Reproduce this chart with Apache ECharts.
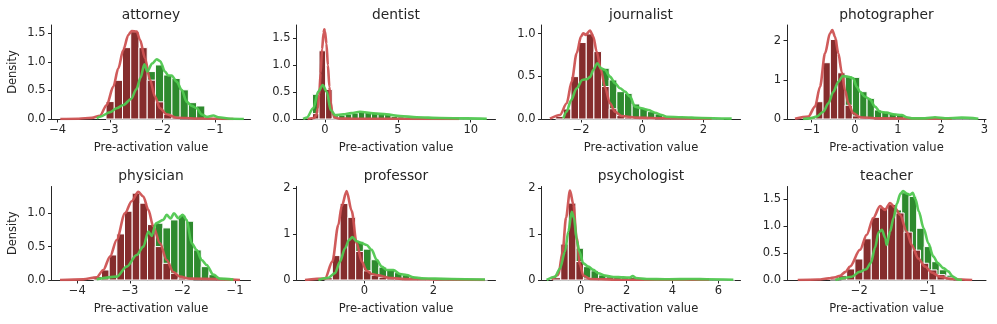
<!DOCTYPE html>
<html><head><meta charset="utf-8">
<script src="https://cdn.jsdelivr.net/npm/echarts@6/dist/echarts.min.js"></script>
<style>html,body{margin:0;padding:0;background:#fff}#c{width:997px;height:324px}</style>
</head><body><div id="c"></div>
<script>
// ---------- DATA ----------
const titles = ['attorney','dentist','journalist','photographer','physician','professor','psychologist','teacher'];

// histogram bins: [first edge, bin width]; heights per bin (density)
const attorneyRedBins = [-3.078, 0.157];
const attorneyRedHist = [0.305, 0.677, 1.249, 1.529, 1.249, 0.68, 0.3, 0.08, 0.03];
const attorneyGreenBins = [-3.078, 0.157];
const attorneyGreenHist = [0.14, 0.2, 0.28, 0.42, 0.8, 0.83, 0.946, 0.77, 0.71, 0.51, 0.286, 0.228, 0.03, 0.02];
const attorneyRedKde = [[-3.95,0],[-3.6,0.005],[-3.35,0.02],[-3.193,0.058],[-3.065,0.245],[-2.939,0.566],[-2.844,0.887],[-2.749,1.208],[-2.653,1.471],[-2.589,1.541],[-2.493,1.529],[-2.43,1.384],[-2.335,1.063],[-2.239,0.683],[-2.144,0.391],[-2.049,0.187],[-1.921,0.082],[-1.73,0.023],[-1.4,0.01],[-1.0,0.005],[-0.65,0]];
const attorneyGreenKde = [[-3.256,0.01],[-3.193,0.04],[-3.002,0.117],[-2.875,0.187],[-2.749,0.245],[-2.6,0.35],[-2.5,0.52],[-2.42,0.72],[-2.348,0.957],[-2.29,0.83],[-2.2,0.97],[-2.112,1.045],[-2.049,1.016],[-1.953,0.83],[-1.89,0.76],[-1.826,0.76],[-1.73,0.65],[-1.635,0.51],[-1.54,0.3],[-1.444,0.23],[-1.349,0.19],[-1.253,0.08],[-1.158,0.04],[-1.032,0.06],[-0.937,0.03],[-0.7,0.005],[-0.45,0]];

const dentistRedBins = [-0.86, 0.45];
const dentistRedHist = [0.1, 1.27, 0.55, 0.02];
const dentistGreenBins = [-0.86, 0.45];
const dentistGreenHist = [0.46, 0.6, 0.25, 0.06, 0.07, 0.09, 0.11, 0.13, 0.12, 0.12, 0.11, 0.09, 0.05, 0.04, 0.03, 0.02, 0.02, 0.01, 0.01, 0.01, 0.005, 0.005, 0.005, 0.005, 0.005, 0.005];
const dentistRedKde = [[-1.2,0],[-0.75,0.02],[-0.6,0.07],[-0.5,0.2],[-0.4,0.45],[-0.3,0.85],[-0.2,1.3],[-0.1,1.6],[-0.05,1.67],[0.0,1.63],[0.1,1.4],[0.2,1.0],[0.3,0.6],[0.4,0.3],[0.5,0.12],[0.65,0.03],[0.9,0.01],[2,0.005],[9.2,0.002]];
const dentistGreenKde = [[-1.5,0],[-1.256,0.025],[-0.803,0.2],[-0.46,0.51],[-0.158,0.63],[0.117,0.51],[0.39,0.167],[0.686,0.074],[1.256,0.087],[1.8,0.11],[2.4,0.136],[3.315,0.105],[4.235,0.087],[5.148,0.056],[6.29,0.032],[7.89,0.018],[9.72,0.012],[11.1,0.005]];

const journalistRedBins = [-2.828, 0.25];
const journalistRedHist = [0.03, 0.117, 0.496, 0.895, 0.996, 0.789, 0.38, 0.12, 0.04, 0.02, 0.01, 0.01, 0.005];
const journalistGreenBins = [-2.828, 0.25];
const journalistGreenHist = [0.01, 0.05, 0.22, 0.38, 0.47, 0.6, 0.594, 0.457, 0.32, 0.30, 0.176, 0.125, 0.086, 0.059, 0.02, 0.02, 0.015, 0.01, 0.01, 0.01, 0.005, 0.005];
const journalistRedKde = [[-3.014,0.004],[-2.687,0.047],[-2.468,0.184],[-2.305,0.438],[-2.141,0.77],[-2.0,0.965],[-1.925,1.004],[-1.847,0.985],[-1.706,1.036],[-1.598,0.965],[-1.488,0.79],[-1.346,0.574],[-1.215,0.371],[-1.052,0.184],[-0.888,0.086],[-0.67,0.035],[-0.234,0.016],[0.856,0.008],[2.275,0.004]];
const journalistGreenKde = [[-2.578,0.008],[-2.468,0.086],[-2.327,0.22],[-2.141,0.36],[-1.957,0.457],[-1.814,0.465],[-1.706,0.49],[-1.598,0.574],[-1.467,0.653],[-1.346,0.594],[-1.215,0.574],[-1.052,0.496],[-0.888,0.418],[-0.724,0.36],[-0.561,0.32],[-0.397,0.262],[-0.234,0.145],[-0.015,0.125],[0.201,0.105],[0.42,0.074],[0.639,0.047],[0.803,0.027],[1.293,0.02],[1.947,0.012],[2.928,0.004]];

const photographerRedBins = [-1.077, 0.17];
const photographerRedHist = [0.06, 0.442, 1.437, 2.03, 1.18, 0.35, 0.08, 0.03, 0.01];
const photographerGreenBins = [-1.077, 0.17];
const photographerGreenHist = [0.01, 0.03, 0.1, 0.35, 0.85, 1.097, 1.063, 0.697, 0.527, 0.23, 0.187, 0.145, 0.10, 0.04, 0.02, 0.01, 0.01, 0.01, 0.02, 0.02, 0.01, 0.01, 0.01];
const photographerRedKde = [[-1.387,0.008],[-1.078,0.06],[-0.923,0.315],[-0.807,0.825],[-0.691,1.675],[-0.576,2.185],[-0.522,2.27],[-0.46,2.1],[-0.382,1.675],[-0.305,1.207],[-0.228,0.74],[-0.151,0.4],[-0.036,0.145],[0.12,0.043],[0.544,0.017],[2.245,0.008]];
const photographerGreenKde = [[-1.2,0],[-1.039,0.017],[-0.884,0.06],[-0.73,0.187],[-0.614,0.4],[-0.498,0.697],[-0.382,0.952],[-0.281,1.097],[-0.151,1.08],[-0.036,1.037],[0.043,0.825],[0.12,0.697],[0.236,0.57],[0.352,0.502],[0.467,0.315],[0.583,0.187],[0.738,0.162],[0.892,0.119],[1.086,0.102],[1.202,0.043],[1.318,0.017],[1.626,0.017],[1.858,0.043],[2.09,0.017],[2.477,0.034],[2.862,0.008]];

const physicianRedBins = [-3.686, 0.146];
const physicianRedHist = [0.05, 0.15, 0.375, 0.69, 1.03, 1.30, 1.15, 0.83, 0.5, 0.25, 0.1, 0.03, 0.01];
const physicianGreenBins = [-3.686, 0.146];
const physicianGreenHist = [0.0, 0.01, 0.03, 0.08, 0.2, 0.35, 0.5, 0.68, 0.85, 0.78, 0.9, 0.97, 0.88, 0.45, 0.2, 0.08, 0.02, 0.01];
const physicianRedKde = [[-4.329,0],[-3.886,0.01],[-3.632,0.04],[-3.505,0.15],[-3.378,0.35],[-3.251,0.6],[-3.093,1.0],[-2.966,1.18],[-2.839,1.32],[-2.744,1.25],[-2.649,1.05],[-2.554,0.8],[-2.427,0.55],[-2.3,0.3],[-2.174,0.12],[-2.047,0.05],[-1.857,0.02],[-0.905,0]];
const physicianGreenKde = [[-3.632,0.01],[-3.251,0.05],[-3.061,0.2],[-2.871,0.375],[-2.744,0.5],[-2.649,0.725],[-2.586,0.66],[-2.503,0.85],[-2.364,0.9],[-2.3,0.975],[-2.224,0.92],[-2.161,1.0],[-2.078,0.925],[-1.996,0.975],[-1.92,0.9],[-1.825,0.55],[-1.73,0.45],[-1.634,0.3],[-1.539,0.225],[-1.413,0.08],[-1.286,0.02],[-1.032,0.005]];

const professorRedBins = [-1.151, 0.225];
const professorRedHist = [0.05, 0.53, 1.66, 1.36, 0.62, 0.2, 0.1, 0.06, 0.04, 0.03, 0.02, 0.01, 0.01, 0.005];
const professorGreenBins = [-1.151, 0.225];
const professorGreenHist = [0.03, 0.15, 0.45, 0.88, 0.84, 0.67, 0.44, 0.28, 0.22, 0.16, 0.11, 0.07, 0.04, 0.03, 0.02, 0.015, 0.01, 0.01, 0.01, 0.01, 0.005];
const professorRedKde = [[-1.719,0],[-1.139,0.03],[-0.926,0.4],[-0.752,1.2],[-0.656,1.6],[-0.511,1.93],[-0.366,1.5],[-0.221,0.8],[-0.076,0.4],[0.069,0.2],[0.214,0.13],[0.407,0.1],[0.697,0.05],[1.18,0.02],[2.339,0.01],[3.499,0]];
const professorGreenKde = [[-1.332,0],[-1.042,0.05],[-0.849,0.15],[-0.704,0.4],[-0.559,0.69],[-0.443,0.87],[-0.347,0.93],[-0.221,0.84],[-0.076,0.8],[0.069,0.76],[0.214,0.655],[0.359,0.437],[0.504,0.29],[0.649,0.218],[0.842,0.218],[1.035,0.131],[1.228,0.109],[1.421,0.058],[1.663,0.036],[2.049,0.029],[2.533,0.022],[3.499,0.01]];

const psychologistRedBins = [-1.2, 0.33];
const psychologistRedHist = [0.05, 0.78, 1.67, 0.4, 0.04, 0.02, 0.01, 0.005];
const psychologistGreenBins = [-1.2, 0.33];
const psychologistGreenHist = [0.02, 0.2, 1.25, 0.69, 0.29, 0.2, 0.11, 0.07, 0.06, 0.05, 0.06, 0.04, 0.02, 0.02, 0.015, 0.01, 0.01, 0.015, 0.015, 0.01, 0.01, 0.01, 0.005, 0.005];
const psychologistRedKde = [[-1.266,0.007],[-0.975,0.11],[-0.786,0.62],[-0.641,1.35],[-0.466,1.94],[-0.321,1.64],[-0.175,0.91],[-0.03,0.33],[0.115,0.095],[0.406,0.022],[1.86,0.007],[5.6,0.004]];
const psychologistGreenKde = [[-1.484,0],[-1.12,0.07],[-0.902,0.25],[-0.684,0.62],[-0.539,1.05],[-0.393,1.48],[-0.292,1.35],[-0.175,0.87],[-0.059,0.62],[0.115,0.36],[0.333,0.29],[0.551,0.22],[0.769,0.146],[1.06,0.095],[1.424,0.066],[1.86,0.058],[2.151,0.051],[2.267,0.087],[2.412,0.044],[2.877,0.022],[3.75,0.015],[4.912,0.022],[5.49,0.015],[6.657,0.007]];

const teacherRedBins = [-2.425, 0.12];
const teacherRedHist = [0.03, 0.08, 0.205, 0.39, 0.765, 1.163, 1.34, 1.40, 1.244, 0.889, 0.554, 0.311, 0.187, 0.1, 0.05];
const teacherGreenBins = [-2.261, 0.11];
const teacherGreenHist = [0.04, 0.08, 0.13, 0.25, 0.6, 0.85, 0.85, 1.3, 1.62, 1.55, 0.96, 0.62, 0.34, 0.19, 0.09, 0.02];
const teacherRedKde = [[-2.9,0],[-2.6,0.01],[-2.45,0.03],[-2.35,0.05],[-2.282,0.08],[-2.2,0.15],[-2.136,0.25],[-1.99,0.56],[-1.892,0.84],[-1.795,1.15],[-1.697,1.37],[-1.624,1.3],[-1.551,1.43],[-1.478,1.34],[-1.405,1.21],[-1.307,0.9],[-1.234,0.65],[-1.137,0.4],[-1.039,0.25],[-0.942,0.14],[-0.82,0.06],[-0.674,0.02],[-0.5,0.01],[-0.35,0]];
const teacherGreenKde = [[-2.35,0],[-2.26,0.03],[-2.11,0.06],[-2.0,0.15],[-1.9,0.2],[-1.83,0.32],[-1.77,0.6],[-1.72,0.88],[-1.67,0.93],[-1.62,0.78],[-1.6,0.65],[-1.55,0.9],[-1.5,1.15],[-1.45,1.42],[-1.4,1.6],[-1.36,1.65],[-1.3,1.6],[-1.26,1.58],[-1.22,1.62],[-1.18,1.5],[-1.13,1.27],[-1.06,0.96],[-0.99,0.68],[-0.92,0.44],[-0.85,0.31],[-0.77,0.22],[-0.7,0.16],[-0.63,0.06],[-0.56,0.01],[-0.5,0]];

// axis tick values
const xTickValues = [[-4,-3,-2,-1],[0,5,10],[-2,0,2],[-1,0,1,2,3],[-4,-3,-2,-1],[0,2],[0,2,4,6],[-2,-1]];
const yTickValues = [[0,0.5,1,1.5],[0,0.5,1,1.5],[0,0.5,1],[0,1,2],[0,0.5,1],[0,1,2],[0,1,2],[0,0.5,1,1.5]];
const yTickDecimals = [1,1,1,0,1,0,0,1];

// ---------- LAYOUT / STYLE ----------
const xRanges = [[-4.118,-0.323],[-1.956,11.70],[-3.292,3.217],[-1.572,3.039],[-4.491,-0.705],[-1.965,3.803],[-1.709,6.968],[-3.057,-0.148]];
const yMaxes = [1.645,1.75,1.10,2.4,1.40,2.03,2.03,1.735];
const colLefts = [51.5, 296.5, 541.5, 787];
const rowTops = [25, 186.5];
const rowHeights = [94, 93.5];
const plotWidth = 199;
const FONT = 'DejaVu Sans';
const INK = '#262626';
const RED_BAR = '#852d2d', GREEN_BAR = '#2e8a2e';
const RED_LINE = '#cd5252', GREEN_LINE = '#50c850';

const panelData = [
  [attorneyRedBins, attorneyRedHist, attorneyGreenBins, attorneyGreenHist, attorneyRedKde, attorneyGreenKde],
  [dentistRedBins, dentistRedHist, dentistGreenBins, dentistGreenHist, dentistRedKde, dentistGreenKde],
  [journalistRedBins, journalistRedHist, journalistGreenBins, journalistGreenHist, journalistRedKde, journalistGreenKde],
  [photographerRedBins, photographerRedHist, photographerGreenBins, photographerGreenHist, photographerRedKde, photographerGreenKde],
  [physicianRedBins, physicianRedHist, physicianGreenBins, physicianGreenHist, physicianRedKde, physicianGreenKde],
  [professorRedBins, professorRedHist, professorGreenBins, professorGreenHist, professorRedKde, professorGreenKde],
  [psychologistRedBins, psychologistRedHist, psychologistGreenBins, psychologistGreenHist, psychologistRedKde, psychologistGreenKde],
  [teacherRedBins, teacherRedHist, teacherGreenBins, teacherGreenHist, teacherRedKde, teacherGreenKde]
];

function histRows(bins, heights) {
  return heights.map((h, i) => [bins[0] + i * bins[1], bins[0] + (i + 1) * bins[1], h]);
}
function barRenderer(color) {
  return function (params, api) {
    const a = api.coord([api.value(0), api.value(2)]);
    const b = api.coord([api.value(1), 0]);
    return { type: 'rect', shape: { x: a[0], y: a[1], width: b[0] - a[0], height: b[1] - a[1] },
      style: { fill: color, stroke: '#ffffff', lineWidth: 1 } };
  };
}
function fmtX(v) { return v < 0 ? '\u2212' + Math.abs(v) : String(v); }

const grid = [], xAxis = [], yAxis = [], series = [], title = [];
titles.forEach((name, i) => {
  const col = i % 4, row = Math.floor(i / 4);
  grid.push({ left: colLefts[col], top: rowTops[row], width: plotWidth, height: rowHeights[row], containLabel: false });
  title.push({ text: name, left: colLefts[col] + plotWidth / 2, top: rowTops[row] - 17, textAlign: 'center', padding: 0,
    textStyle: { fontFamily: FONT, fontSize: 13.8, fontWeight: 'normal', color: INK } });
  xAxis.push({ type: 'value', gridIndex: i, min: xRanges[i][0], max: xRanges[i][1],
    name: 'Pre-activation value', nameLocation: 'middle', nameGap: 23,
    nameTextStyle: { fontFamily: FONT, fontSize: 11.5, color: INK },
    axisLine: { show: true, onZero: false, lineStyle: { color: INK, width: 1 } },
    axisTick: { show: true, length: 3.5, customValues: xTickValues[i], lineStyle: { color: INK, width: 1 } },
    axisLabel: { customValues: xTickValues[i], formatter: fmtX, fontFamily: FONT, fontSize: 11.5, color: INK, margin: 5 },
    splitLine: { show: false } });
  yAxis.push({ type: 'value', gridIndex: i, min: 0, max: yMaxes[i],
    name: col === 0 ? 'Density' : '', nameLocation: 'middle', nameGap: 32, nameRotate: 90,
    nameTextStyle: { fontFamily: FONT, fontSize: 11.5, color: INK },
    axisLine: { show: true, onZero: false, lineStyle: { color: INK, width: 1 } },
    axisTick: { show: true, length: 3.5, customValues: yTickValues[i], lineStyle: { color: INK, width: 1 } },
    axisLabel: { customValues: yTickValues[i], formatter: v => v.toFixed(yTickDecimals[i]), fontFamily: FONT, fontSize: 11.5, color: INK, margin: 6 },
    splitLine: { show: false } });
  const [rb, rh, gb, gh, rk, gk] = panelData[i];
  series.push({ type: 'custom', xAxisIndex: i, yAxisIndex: i, renderItem: barRenderer(GREEN_BAR),
    data: histRows(gb, gh), encode: { x: [0, 1], y: 2 }, z: 1, silent: true });
  series.push({ type: 'custom', xAxisIndex: i, yAxisIndex: i, renderItem: barRenderer(RED_BAR),
    data: histRows(rb, rh), encode: { x: [0, 1], y: 2 }, z: 2, silent: true });
  series.push({ type: 'line', xAxisIndex: i, yAxisIndex: i, data: rk, showSymbol: false, smooth: 0.3, smoothMonotone: 'x',
    lineStyle: { color: RED_LINE, width: 2.6, opacity: 0.95 }, z: 3, silent: true, clip: true });
  series.push({ type: 'line', xAxisIndex: i, yAxisIndex: i, data: gk, showSymbol: false, smooth: 0.3, smoothMonotone: 'x',
    lineStyle: { color: GREEN_LINE, width: 2.6, opacity: 0.95 }, z: 4, silent: true, clip: true });
});

const chart = echarts.init(document.getElementById('c'), null, { renderer: 'canvas' });
chart.setOption({ animation: false, backgroundColor: '#ffffff', title, grid, xAxis, yAxis, series });
</script>
</body></html>
